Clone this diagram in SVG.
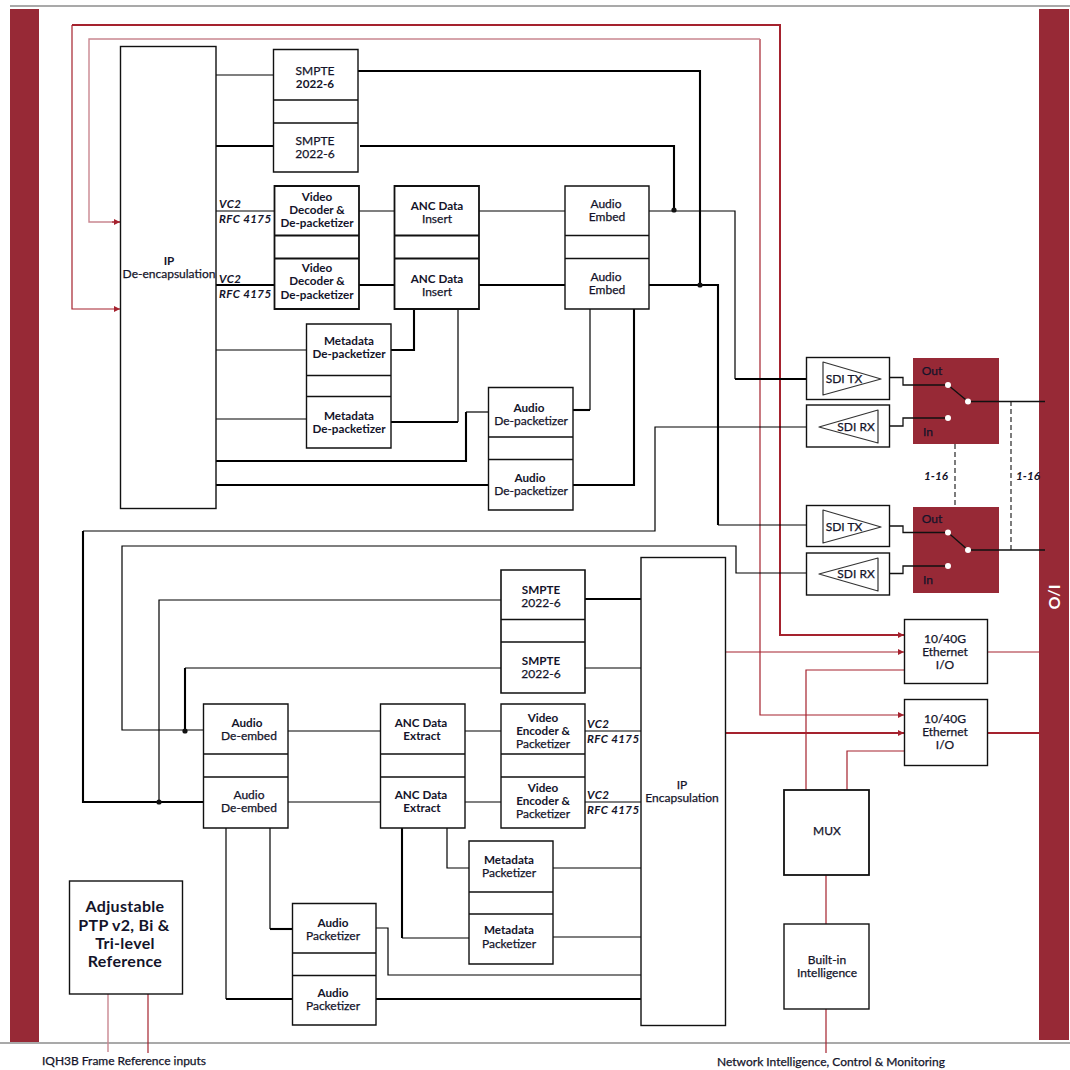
<svg xmlns="http://www.w3.org/2000/svg" width="1070" height="1070" viewBox="0 0 1070 1070">
<style>
text{font-family:"Lato","Noto Sans","Liberation Sans",sans-serif;font-size:12px;fill:#14142a;stroke:#14142a;stroke-width:.25;text-anchor:middle}
.b{font-size:11.7px;font-weight:700;stroke:none}
.i{font-size:11.5px;font-style:italic;font-weight:700;text-anchor:start;letter-spacing:.4px;stroke:none}
.box{fill:#fff;stroke:#111;stroke-width:1.4}
.bar,.sw{fill:#972936}
.k{fill:none;stroke:#000;stroke-width:1.2}
.t{fill:none;stroke:#000;stroke-width:2.1}
.d{fill:none;stroke:#111;stroke-width:1.1;stroke-dasharray:5 3}
.r{fill:none;stroke:#a5222e;stroke-width:1.2}
.rt{fill:none;stroke:#a5222e;stroke-width:2}
.rp{fill:none;stroke:#c98790;stroke-width:1.4}
.tri{fill:#fff;stroke:#333;stroke-width:1.2;stroke-linejoin:round}
.dot{fill:#111}
.wd{fill:#fff}
.wl{fill:none;stroke:#111;stroke-width:1.3}
.big{font-size:16px;font-weight:700;stroke:none;letter-spacing:.3px}
</style>
<defs>
<marker id="a" markerWidth="7" markerHeight="7" refX="6" refY="3" orient="auto" markerUnits="userSpaceOnUse"><path d="M0 0L6 3L0 6Z" fill="#a5222e"/></marker>
</defs>
<g id="frame">
<path d="M10 6H1070M0 1043H1070" fill="none" stroke="#555" stroke-width="1.1"/>
<rect id="left-bar" class="bar" x="10" y="9" width="29" height="1033"/>
<rect id="right-bar" class="bar" x="1039" y="9" width="30" height="1031"/>
<text transform="translate(1049,597) rotate(90)" style="fill:#fff;stroke:none;font-size:16px;font-weight:700">I/O</text>
</g>
<g id="connectors">
<path class="rt" d="M72 25H780V635H904" marker-end="url(#a)"/>
<path class="r" d="M72 25V309H120" marker-end="url(#a)"/>
<path class="r" d="M760 39V715H904" marker-end="url(#a)"/>
<path class="rp" d="M760 39H89V222H120"/>
<path class="r" d="M112 222H120" marker-end="url(#a)"/>
<path class="r" d="M725 652H904" marker-end="url(#a)"/>
<path class="rt" d="M725 733H904" marker-end="url(#a)"/>
<path class="r" d="M987 652H1040"/><path class="rt" d="M987 733H1040"/>
<path class="r" d="M806 790V670H904"/><path class="r" d="M847 790V751H904"/>
<path class="r" d="M826 875V924M826 1009V1053"/>
<path class="rp" d="M108 994V1052"/><path class="r" d="M148 994V1053"/>

<path class="k" d="M216 75H273"/><path class="t" d="M216 146H273"/>
<path class="t" d="M358 71H700V285"/><path class="t" d="M360 146H674V210"/>
<path class="t" d="M649 285H718V525"/><path class="k" d="M718 525H806"/>
<path class="k" d="M649 211H735V379"/><path class="t" d="M735 379H806"/>
<path class="k" d="M216 211H274M359 211H394M479 211H565"/>
<path class="t" d="M216 285H274M359 285H394M479 285H565"/>
<path class="k" d="M216 350H306"/><path class="t" d="M391 350H414V309"/>
<path class="k" d="M216 419H306M458 309V422"/><path class="t" d="M391 422H458"/>
<path class="t" d="M216 461H466V412"/><path class="k" d="M466 412H488"/>
<path class="t" d="M216 485H488M573 485H634V309"/>
<path class="t" d="M573 410H590"/><path class="k" d="M590 410V309"/>
<path class="k" d="M806 427H655V531H83"/><path class="t" d="M83 531V802H203"/>
<path class="k" d="M159 802V600H501"/>
<path class="k" d="M806 573H736V546H122V730H203"/>
<path class="t" d="M185 731V668"/><path class="k" d="M185 668H501"/>
<path class="t" d="M585 599H641"/><path class="k" d="M585 668H641"/>
<path class="k" d="M288 731H380M465 731H501M585 731H641"/>
<path class="k" d="M288 802H380M465 802H501M585 802H641"/>
<path class="k" d="M447 828V868H469M553 868H641"/>
<path class="t" d="M402 828V938"/><path class="k" d="M402 938H469M553 937H641"/>
<path class="k" d="M270 828V929"/><path class="t" d="M270 929H292"/>
<path class="k" d="M226 828V999"/><path class="t" d="M226 999H292M376 999H641"/>
<path class="k" d="M376 928H388V975H641"/>
<circle class="dot" cx="674" cy="210" r="2.6"/><circle class="dot" cx="700" cy="285" r="2.6"/>
<circle class="dot" cx="185" cy="731" r="2.6"/><circle class="dot" cx="159" cy="802" r="2.6"/>
<path class="d" d="M955 444V507M1011 401V550"/>
</g>
<g id="ip-de-encapsulation"><rect class="box" x="120.500" y="46.500" width="95.500" height="462"/><text x="169" y="265" class="b">IP</text><text x="169" y="278">De-encapsulation</text></g>
<g id="smpte-rx"><path class="box" d="M273.500 49.500H358V172H273.500ZM273.500 100H358M273.500 123H358"/><text x="315" y="75">SMPTE</text><text x="315" y="88" class="b">2022-6</text><text x="315" y="145">SMPTE</text><text x="315" y="158">2022-6</text></g>
<g id="video-decoders"><path class="box" d="M274.500 186H359V309H274.500ZM274.500 235.500H359M274.500 258.500H359" style="stroke-width:1.8"/><text x="317" y="201" class="b">Video</text><text x="317" y="214" class="b">Decoder &amp;</text><text x="317" y="227" class="b">De-packetizer</text><text x="317" y="272" class="b">Video</text><text x="317" y="285" class="b">Decoder &amp;</text><text x="317" y="299" class="b">De-packetizer</text></g>
<g id="anc-insert"><path class="box" d="M394.500 186H479V309H394.500ZM394.500 235.500H479M394.500 258.500H479" style="stroke-width:1.8"/><text x="437" y="210" class="b">ANC Data</text><text x="437" y="223">Insert</text><text x="437" y="283" class="b">ANC Data</text><text x="437" y="296">Insert</text></g>
<g id="audio-embed"><path class="box" d="M565 186H649V309H565ZM565 235.500H649M565 258.500H649"/><text x="606" y="208">Audio</text><text x="607" y="221">Embed</text><text x="606" y="281">Audio</text><text x="607" y="294">Embed</text></g>
<g id="vc2-labels"><text x="219" y="208" class="i">VC2</text><text x="219" y="223" class="i">RFC 4175</text><text x="219" y="283" class="i">VC2</text><text x="219" y="298" class="i">RFC 4175</text><text x="587" y="728" class="i">VC2</text><text x="587" y="743" class="i">RFC 4175</text><text x="587" y="799" class="i">VC2</text><text x="587" y="814" class="i">RFC 4175</text></g>
<g id="metadata-depacketizers"><path class="box" d="M306.500 324H391V448H306.500ZM306.500 375.500H391M306.500 396.500H391"/><text x="349" y="345" class="b">Metadata</text><text x="349" y="358" class="b">De-packetizer</text><text x="349" y="420" class="b">Metadata</text><text x="349" y="433" class="b">De-packetizer</text></g>
<g id="audio-depacketizers"><path class="box" d="M488.500 387.500H573V510H488.500ZM488.500 437H573M488.500 459.500H573"/><text x="529" y="412" class="b">Audio</text><text x="531" y="425">De-packetizer</text><text x="530" y="482" class="b">Audio</text><text x="531" y="495">De-packetizer</text></g>
<g id="sdi-tx-1"><rect class="box" x="806.500" y="357.500" width="83" height="42"/><path class="tri" d="M823 362L881 379L823 395Z"/><text x="844" y="383">SDI TX</text></g>
<g id="sdi-rx-1"><rect class="box" x="806.500" y="405" width="83" height="42"/><path class="tri" d="M878 410L819 427L878 443Z"/><text x="856" y="431">SDI RX</text></g>
<g id="sdi-tx-2"><rect class="box" x="806.500" y="505.500" width="83" height="41"/><path class="tri" d="M823 510L881 527L823 543Z"/><text x="844" y="531">SDI TX</text></g>
<g id="sdi-rx-2"><rect class="box" x="806.500" y="553" width="83" height="42"/><path class="tri" d="M878 558L819 574L878 591Z"/><text x="856" y="578">SDI RX</text></g>
<g id="switch-1"><rect class="sw" x="913" y="358" width="86" height="86"/>
<path class="wl" d="M889 377.500H903V385H948M948 385L968 401.500H1045M889 426H903V418H948"/>
<circle class="wd" cx="948" cy="385" r="3"/><circle class="wd" cx="948" cy="418" r="3"/><circle class="wd" cx="968" cy="401.500" r="3"/>
<text x="932" y="375">Out</text><text x="928" y="436">In</text></g>
<g id="switch-2"><rect class="sw" x="913" y="507" width="86" height="86"/>
<path class="wl" d="M889 526H903V532.500H948M948 532.500L968 550H1045M889 573.500H903V566H948"/>
<circle class="wd" cx="948" cy="532.500" r="3"/><circle class="wd" cx="948" cy="566" r="3"/><circle class="wd" cx="968" cy="550" r="3"/>
<text x="932" y="523">Out</text><text x="928" y="584">In</text></g>
<g id="multiplicity-labels"><text x="936" y="480" class="b" style="font-style:italic">1-16</text><text x="1028" y="480" class="b" style="font-style:italic">1-16</text></g>
<g id="ethernet-1"><rect class="box" x="904.500" y="619.500" width="83" height="64"/><text x="945" y="643">10/40G</text><text x="945" y="656">Ethernet</text><text x="945" y="669">I/O</text></g>
<g id="ethernet-2"><rect class="box" x="904.500" y="699.500" width="83" height="66"/><text x="945" y="723">10/40G</text><text x="945" y="736">Ethernet</text><text x="945" y="749">I/O</text></g>
<g id="mux"><rect class="box" x="784" y="790" width="85" height="85" style="stroke-width:1.8"/><text x="827" y="835">MUX</text></g>
<g id="built-in-intelligence"><rect class="box" x="784" y="924" width="85" height="85"/><text x="827" y="964">Built-in</text><text x="827" y="977">Intelligence</text></g>
<g id="ip-encapsulation"><rect class="box" x="641" y="557.500" width="84.500" height="468"/><text x="682" y="789">IP</text><text x="682" y="802">Encapsulation</text></g>
<g id="smpte-tx"><path class="box" d="M501 570H585V693H501ZM501 619.500H585M501 642H585" style="stroke-width:1.6"/><text x="541" y="594" class="b">SMPTE</text><text x="541" y="607">2022-6</text><text x="541" y="665" class="b">SMPTE</text><text x="541" y="678">2022-6</text></g>
<g id="audio-de-embed"><path class="box" d="M203.500 704H288V828H203.500ZM203.500 754H288M203.500 777H288"/><text x="247" y="727" class="b">Audio</text><text x="249" y="740">De-embed</text><text x="249" y="799">Audio</text><text x="249" y="812">De-embed</text></g>
<g id="anc-extract"><path class="box" d="M380.500 704H465V828H380.500ZM380.500 754H465M380.500 777H465"/><text x="421" y="727" class="b">ANC Data</text><text x="422" y="740" class="b">Extract</text><text x="421" y="799" class="b">ANC Data</text><text x="422" y="812" class="b">Extract</text></g>
<g id="video-encoders"><path class="box" d="M501 704H585V828H501ZM501 754H585M501 777H585"/><text x="543" y="722" class="b">Video</text><text x="543" y="735" class="b">Encoder &amp;</text><text x="543" y="748">Packetizer</text><text x="543" y="792" class="b">Video</text><text x="543" y="805" class="b">Encoder &amp;</text><text x="543" y="818">Packetizer</text></g>
<g id="metadata-packetizers"><path class="box" d="M469 841H553V964H469ZM469 892H553M469 914H553"/><text x="509" y="864" class="b">Metadata</text><text x="509" y="877">Packetizer</text><text x="509" y="934" class="b">Metadata</text><text x="509" y="948">Packetizer</text></g>
<g id="audio-packetizers"><path class="box" d="M292.500 903.500H376V1025H292.500ZM292.500 953H376M292.500 975.500H376"/><text x="333" y="927" class="b">Audio</text><text x="333" y="940">Packetizer</text><text x="333" y="997" class="b">Audio</text><text x="333" y="1010">Packetizer</text></g>
<g id="reference"><rect class="box" x="69.500" y="881" width="113" height="113"/><text class="big" x="125" y="912">Adjustable</text><text class="big" x="124" y="931">PTP v2, Bi &amp;</text><text class="big" x="125" y="949">Tri-level</text><text class="big" x="125" y="967">Reference</text></g>
<g id="footer-labels"><text x="124" y="1065">IQH3B Frame Reference inputs</text><text x="831" y="1066">Network Intelligence, Control &amp; Monitoring</text></g>
</svg>
